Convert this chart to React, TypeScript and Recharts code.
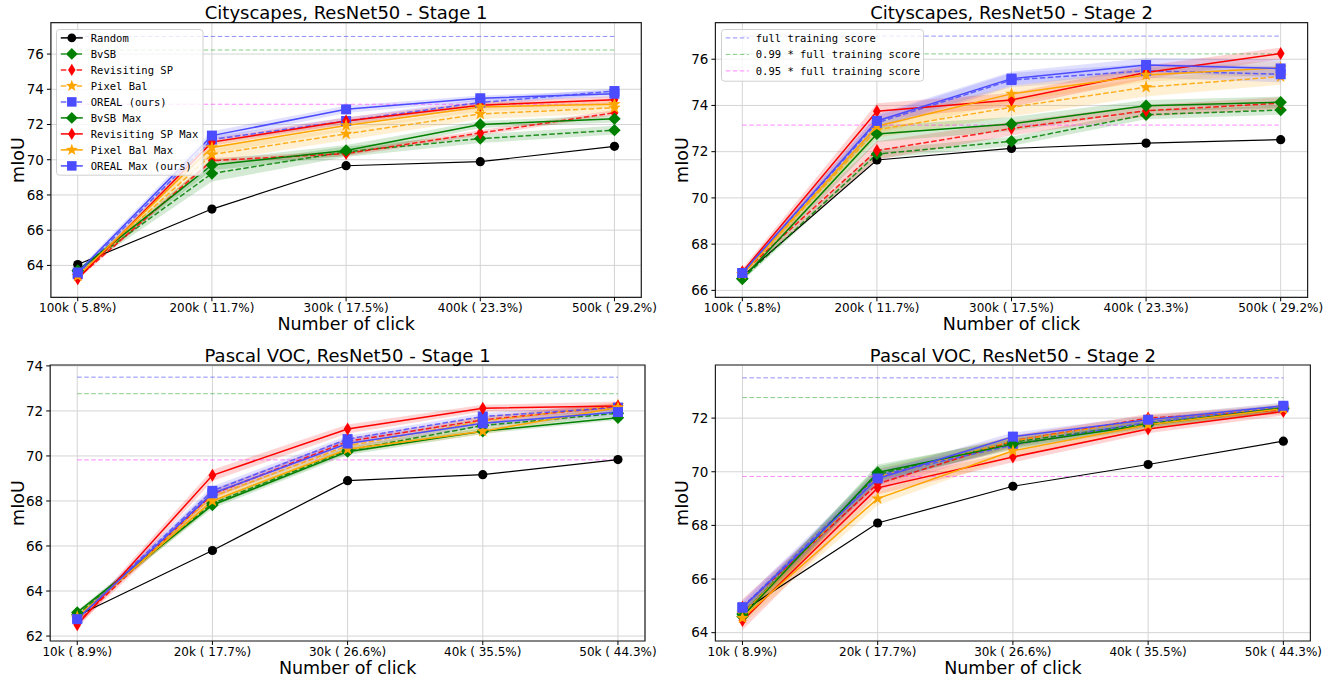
import React from 'react';
import { ComposedChart, Line, Area, XAxis, YAxis, CartesianGrid, ReferenceLine, ReferenceArea } from 'recharts';

// ---------- categories ----------
const cityXLabels = ['100k ( 5.8%)', '200k ( 11.7%)', '300k ( 17.5%)', '400k ( 23.3%)', '500k ( 29.2%)'];
const vocXLabels = ['10k ( 8.9%)', '20k ( 17.7%)', '30k ( 26.6%)', '40k ( 35.5%)', '50k ( 44.3%)'];

// ---------- Cityscapes Stage 1 ----------
const c1Random = [64.05, 67.2, 69.66, 69.89, 70.76];
const c1Bvsb = [63.7, 69.22, 70.45, 71.2, 71.68];
const c1Revsp = [63.3, 69.95, 70.35, 71.52, 72.67];
const c1Pixbal = [63.4, 70.3, 71.47, 72.6, 72.95];
const c1Oreal = [63.5, 71.15, 72.2, 73.25, 73.9];
const c1BvsbMax = [63.7, 69.7, 70.53, 72.0, 72.32];
const c1RevspMax = [63.25, 71.0, 72.2, 73.1, 73.4];
const c1PixbalMax = [63.4, 70.7, 71.95, 73.0, 73.15];
const c1OrealMax = [63.6, 71.37, 72.86, 73.49, 73.75];
const c1BvsbStd = [0.1, 0.45, 0.3, 0.25, 0.25];
const c1RevspStd = [0.1, 0.15, 0.15, 0.15, 0.15];
const c1PixbalStd = [0.1, 0.4, 0.35, 0.3, 0.3];
const c1OrealStd = [0.1, 0.2, 0.2, 0.2, 0.15];
const c1BvsbMaxStd = [0.1, 0.3, 0.3, 0.2, 0.2];
const c1RevspMaxStd = [0.1, 0.2, 0.2, 0.2, 0.2];
const c1PixbalMaxStd = [0.1, 0.35, 0.3, 0.25, 0.2];
const c1OrealMaxStd = [0.15, 0.25, 0.2, 0.15, 0.2];

// ---------- Cityscapes Stage 2 ----------
const c2Random = [66.6, 71.64, 72.14, 72.37, 72.52];
const c2Bvsb = [66.5, 71.9, 72.45, 73.6, 73.8];
const c2Revsp = [66.75, 72.05, 73.0, 73.77, 74.1];
const c2Pixbal = [66.7, 72.95, 73.92, 74.79, 75.25];
const c2Oreal = [66.75, 73.25, 75.1, 75.5, 75.35];
const c2BvsbMax = [66.5, 72.77, 73.2, 73.99, 74.14];
const c2RevspMax = [66.8, 73.75, 74.24, 75.43, 76.25];
const c2PixbalMax = [66.7, 73.1, 74.5, 75.32, 75.63];
const c2OrealMax = [66.75, 73.33, 75.16, 75.75, 75.6];
const c2BvsbStd = [0.1, 0.2, 0.2, 0.2, 0.2];
const c2RevspStd = [0.15, 0.4, 0.3, 0.25, 0.25];
const c2PixbalStd = [0.15, 0.35, 0.4, 0.4, 0.35];
const c2OrealStd = [0.1, 0.3, 0.3, 0.3, 0.35];
const c2BvsbMaxStd = [0.1, 0.35, 0.3, 0.25, 0.25];
const c2RevspMaxStd = [0.15, 0.35, 0.3, 0.3, 0.25];
const c2PixbalMaxStd = [0.15, 0.3, 0.35, 0.3, 0.3];
const c2OrealMaxStd = [0.1, 0.3, 0.3, 0.3, 0.4];

// ---------- Pascal VOC Stage 1 ----------
const v1Random = [62.9, 65.8, 68.9, 69.17, 69.84];
const v1Bvsb = [62.95, 67.9, 70.25, 71.35, 71.9];
const v1Revsp = [62.6, 68.3, 70.65, 71.6, 72.2];
const v1Pixbal = [62.8, 68.2, 70.45, 71.55, 72.25];
const v1Oreal = [62.8, 68.45, 70.75, 71.75, 72.15];
const v1BvsbMax = [63.05, 67.82, 70.19, 71.1, 71.7];
const v1RevspMax = [62.5, 69.14, 71.2, 72.12, 72.22];
const v1PixbalMax = [62.85, 68.0, 70.3, 71.1, 72.15];
const v1OrealMax = [62.75, 68.34, 70.55, 71.45, 71.95];
const v1BvsbStd = [0.1, 0.15, 0.15, 0.15, 0.12];
const v1RevspStd = [0.15, 0.2, 0.15, 0.15, 0.15];
const v1PixbalStd = [0.1, 0.2, 0.15, 0.2, 0.15];
const v1OrealStd = [0.1, 0.2, 0.15, 0.15, 0.15];
const v1BvsbMaxStd = [0.1, 0.15, 0.15, 0.12, 0.1];
const v1RevspMaxStd = [0.15, 0.25, 0.2, 0.15, 0.2];
const v1PixbalMaxStd = [0.1, 0.2, 0.15, 0.15, 0.15];
const v1OrealMaxStd = [0.12, 0.2, 0.2, 0.15, 0.15];

// ---------- Pascal VOC Stage 2 ----------
const v2Random = [64.8, 68.09, 69.46, 70.27, 71.14];
const v2Bvsb = [64.7, 69.9, 71.1, 71.8, 72.35];
const v2Revsp = [64.95, 69.55, 71.15, 72.0, 72.3];
const v2Pixbal = [64.7, 69.8, 71.15, 71.95, 72.4];
const v2Oreal = [64.95, 69.85, 71.0, 71.85, 72.4];
const v2BvsbMax = [64.6, 69.97, 71.03, 71.75, 72.38];
const v2RevspMax = [64.45, 69.4, 70.55, 71.59, 72.25];
const v2PixbalMax = [64.55, 69.0, 70.78, 71.75, 72.35];
const v2OrealMax = [64.93, 69.75, 71.31, 71.94, 72.46];
const v2BvsbStd = [0.25, 0.3, 0.2, 0.15, 0.12];
const v2RevspStd = [0.3, 0.25, 0.2, 0.15, 0.15];
const v2PixbalStd = [0.25, 0.3, 0.2, 0.15, 0.15];
const v2OrealStd = [0.25, 0.25, 0.15, 0.15, 0.12];
const v2BvsbMaxStd = [0.25, 0.3, 0.2, 0.15, 0.12];
const v2RevspMaxStd = [0.35, 0.25, 0.2, 0.15, 0.15];
const v2PixbalMaxStd = [0.25, 0.25, 0.2, 0.15, 0.15];
const v2OrealMaxStd = [0.2, 0.25, 0.15, 0.15, 0.12];

// ---------- reference scores ----------
const cityFullScore = 77.0;
const vocFullScore = 73.5;
const refFactors = [1, 0.99, 0.95];
const refNames = ['full training score', '0.99 * full training score', '0.95 * full training score'];

// ---------- tick values ----------
const c1YTicks = [64, 66, 68, 70, 72, 74, 76];
const c2YTicks = [66, 68, 70, 72, 74, 76];
const v1YTicks = [62, 64, 66, 68, 70, 72, 74];
const v2YTicks = [64, 66, 68, 70, 72];
const xTickIdx = [0, 1, 2, 3, 4];

// ---------- styles ----------
const SANS = "'DejaVu Sans', Verdana, sans-serif";
const MONO = "'DejaVu Sans Mono', monospace";
const BLUE = '#4b4bff';
const REF_COLORS = ['#3333ff', '#22a022', '#ff22ff'];

type Shape = 'circle' | 'D' | 'd' | 'star' | 's';
interface SeriesStyle { key: string; name: string; color: string; dash: boolean; shape: Shape }
const SERIES: SeriesStyle[] = [
  { key: 'random', name: 'Random', color: '#000000', dash: false, shape: 'circle' },
  { key: 'bvsb', name: 'BvSB', color: '#008000', dash: true, shape: 'D' },
  { key: 'revsp', name: 'Revisiting SP', color: '#ff0000', dash: true, shape: 'd' },
  { key: 'pixbal', name: 'Pixel Bal', color: '#ffa500', dash: true, shape: 'star' },
  { key: 'oreal', name: 'OREAL (ours)', color: BLUE, dash: true, shape: 's' },
  { key: 'bvsbMax', name: 'BvSB Max', color: '#008000', dash: false, shape: 'D' },
  { key: 'revspMax', name: 'Revisiting SP Max', color: '#ff0000', dash: false, shape: 'd' },
  { key: 'pixbalMax', name: 'Pixel Bal Max', color: '#ffa500', dash: false, shape: 'star' },
  { key: 'orealMax', name: 'OREAL Max (ours)', color: BLUE, dash: false, shape: 's' },
];

function starPts(cx: number, cy: number, R: number, r: number) {
  const pts: string[] = [];
  for (let k = 0; k < 10; k++) {
    const a = (-90 + k * 36) * Math.PI / 180;
    const rad = k % 2 === 0 ? R : r;
    pts.push(`${cx + rad * Math.cos(a)},${cy + rad * Math.sin(a)}`);
  }
  return pts.join(' ');
}

function MarkerShape({ cx, cy, shape, color, scale = 1 }: { cx: number; cy: number; shape: Shape; color: string; scale?: number }) {
  if (cx == null || cy == null || isNaN(cx) || isNaN(cy)) return null;
  const s = scale;
  if (shape === 'circle') return <circle cx={cx} cy={cy} r={4.6 * s} fill={color} />;
  if (shape === 'D') {
    const h = 6.2 * s;
    return <polygon points={`${cx},${cy - h} ${cx + h},${cy} ${cx},${cy + h} ${cx - h},${cy}`} fill={color} />;
  }
  if (shape === 'd') {
    const h = 6.5 * s, w = 3.9 * s;
    return <polygon points={`${cx},${cy - h} ${cx + w},${cy} ${cx},${cy + h} ${cx - w},${cy}`} fill={color} />;
  }
  if (shape === 'star') return <polygon points={starPts(cx, cy, 6.6 * s, 2.7 * s)} fill={color} />;
  const a = 5 * s;
  return <rect x={cx - a} y={cy - a} width={2 * a} height={2 * a} fill={color} />;
}

interface PanelCfg {
  left: number; top: number; width: number; height: number;
  plot: { left: number; right: number; top: number; bottom: number };
  domain: [number, number];
  yTicks: number[];
  xLabels: string[];
  means: Record<string, number[]>;
  stds: Record<string, number[]>;
  full: number;
  title: string;
}

const YW = 40;
const XH = 30;

function Panel({ cfg }: { cfg: PanelCfg }) {
  const { left, top, width, height, plot, domain, yTicks, xLabels, means, stds, full } = cfg;
  const data = xLabels.map((lab, i) => {
    const row: any = { x: i, label: lab };
    SERIES.forEach((s) => {
      row[s.key] = means[s.key][i];
      if (stds[s.key]) row[s.key + 'Band'] = [means[s.key][i] - stds[s.key][i], means[s.key][i] + stds[s.key][i]];
    });
    return row;
  });
  const margin = {
    left: plot.left - left - YW,
    right: left + width - plot.right,
    top: plot.top - top,
    bottom: top + height - plot.bottom - XH,
  };
  return (
    <div style={{ position: 'absolute', left, top, width, height }}>
      <ComposedChart width={width} height={height} data={data} margin={margin}>
        <CartesianGrid stroke="#d4d4d4" strokeWidth={1} />
        <XAxis
          type="number" dataKey="x" domain={[-0.2, 4.2]} ticks={xTickIdx} interval={0}
          tickFormatter={(v: number) => xLabels[v]} height={XH} tickSize={4} tickMargin={2}
          axisLine={false} tickLine={{ stroke: '#000' }} allowDataOverflow
          tick={{ fontSize: 12, fill: '#000', fontFamily: SANS }}
        />
        <YAxis
          type="number" domain={domain} ticks={yTicks} interval={0} width={YW} tickSize={4} tickMargin={3}
          axisLine={false} tickLine={{ stroke: '#000' }} allowDataOverflow
          tick={{ fontSize: 13.5, fill: '#000', fontFamily: SANS }}
        />
        {refFactors.map((f, i) => (
          <ReferenceLine
            key={'ref' + i}
            segment={[{ x: 0, y: full * f }, { x: 4, y: full * f }]}
            stroke={REF_COLORS[i]} strokeOpacity={0.55} strokeWidth={1} strokeDasharray="4.5 2.5"
            ifOverflow="visible"
          />
        ))}
        {SERIES.filter((s) => stds[s.key]).map((s) => (
          <Area
            key={s.key + 'Band'} type="linear" dataKey={s.key + 'Band'} stroke="none" fill={s.color}
            fillOpacity={0.17} isAnimationActive={false} dot={false} activeDot={false} legendType="none"
          />
        ))}
        {SERIES.map((s) => (
          <Line
            key={s.key} type="linear" dataKey={s.key} stroke={s.color}
            strokeWidth={s.key === 'random' ? 1.2 : 1.5}
            strokeOpacity={s.dash ? 0.85 : 1}
            strokeDasharray={s.dash ? '5.5 2.4' : undefined}
            isAnimationActive={false} activeDot={false}
            dot={(p: any) => <MarkerShape key={s.key + '-' + p.index} cx={p.cx} cy={p.cy} shape={s.shape} color={s.color} />}
          />
        ))}
        <ReferenceArea x1={-0.2} x2={4.2} y1={domain[0]} y2={domain[1]} fill="none" stroke="#222" strokeWidth={1.2} ifOverflow="visible" />
      </ComposedChart>
    </div>
  );
}

const PANELS: PanelCfg[] = [
  {
    left: 0, top: 0, width: 666, height: 340,
    plot: { left: 50.9, right: 641.3, top: 22.7, bottom: 297.3 },
    domain: [62.19, 77.78], yTicks: c1YTicks, xLabels: cityXLabels, full: cityFullScore,
    title: 'Cityscapes, ResNet50 - Stage 1',
    means: { random: c1Random, bvsb: c1Bvsb, revsp: c1Revsp, pixbal: c1Pixbal, oreal: c1Oreal, bvsbMax: c1BvsbMax, revspMax: c1RevspMax, pixbalMax: c1PixbalMax, orealMax: c1OrealMax },
    stds: { bvsb: c1BvsbStd, revsp: c1RevspStd, pixbal: c1PixbalStd, oreal: c1OrealStd, bvsbMax: c1BvsbMaxStd, revspMax: c1RevspMaxStd, pixbalMax: c1PixbalMaxStd, orealMax: c1OrealMaxStd },
  },
  {
    left: 666, top: 0, width: 667, height: 340,
    plot: { left: 715.4, right: 1307.6, top: 22.7, bottom: 297.3 },
    domain: [65.7, 77.58], yTicks: c2YTicks, xLabels: cityXLabels, full: cityFullScore,
    title: 'Cityscapes, ResNet50 - Stage 2',
    means: { random: c2Random, bvsb: c2Bvsb, revsp: c2Revsp, pixbal: c2Pixbal, oreal: c2Oreal, bvsbMax: c2BvsbMax, revspMax: c2RevspMax, pixbalMax: c2PixbalMax, orealMax: c2OrealMax },
    stds: { bvsb: c2BvsbStd, revsp: c2RevspStd, pixbal: c2PixbalStd, oreal: c2OrealStd, bvsbMax: c2BvsbMaxStd, revspMax: c2RevspMaxStd, pixbalMax: c2PixbalMaxStd, orealMax: c2OrealMaxStd },
  },
  {
    left: 0, top: 340, width: 666, height: 341,
    plot: { left: 50.2, right: 645, top: 365, bottom: 641 },
    domain: [61.78, 74.04], yTicks: v1YTicks, xLabels: vocXLabels, full: vocFullScore,
    title: 'Pascal VOC, ResNet50 - Stage 1',
    means: { random: v1Random, bvsb: v1Bvsb, revsp: v1Revsp, pixbal: v1Pixbal, oreal: v1Oreal, bvsbMax: v1BvsbMax, revspMax: v1RevspMax, pixbalMax: v1PixbalMax, orealMax: v1OrealMax },
    stds: { bvsb: v1BvsbStd, revsp: v1RevspStd, pixbal: v1PixbalStd, oreal: v1OrealStd, bvsbMax: v1BvsbMaxStd, revspMax: v1RevspMaxStd, pixbalMax: v1PixbalMaxStd, orealMax: v1OrealMaxStd },
  },
  {
    left: 666, top: 340, width: 667, height: 341,
    plot: { left: 715.4, right: 1310.4, top: 365, bottom: 641 },
    domain: [63.69, 73.98], yTicks: v2YTicks, xLabels: vocXLabels, full: vocFullScore,
    title: 'Pascal VOC, ResNet50 - Stage 2',
    means: { random: v2Random, bvsb: v2Bvsb, revsp: v2Revsp, pixbal: v2Pixbal, oreal: v2Oreal, bvsbMax: v2BvsbMax, revspMax: v2RevspMax, pixbalMax: v2PixbalMax, orealMax: v2OrealMax },
    stds: { bvsb: v2BvsbStd, revsp: v2RevspStd, pixbal: v2PixbalStd, oreal: v2OrealStd, bvsbMax: v2BvsbMaxStd, revspMax: v2RevspMaxStd, pixbalMax: v2PixbalMaxStd, orealMax: v2OrealMaxStd },
  },
];

function SeriesLegend() {
  const w = 146.5, h = 145.7;
  return (
    <svg style={{ position: 'absolute', left: 55.7, top: 29.3 }} width={w + 2} height={h + 2}>
      <rect x={0.5} y={0.5} width={w} height={h} rx={3} fill="#fff" fillOpacity={0.8} stroke="#cfcfcf" strokeWidth={1} />
      {SERIES.map((s, i) => {
        const y = 8.9 + 16 * i;
        return (
          <g key={s.key}>
            <line x1={4.8} x2={26.8} y1={y} y2={y} stroke={s.color} strokeWidth={1.5}
              strokeOpacity={s.dash ? 0.85 : 1} strokeDasharray={s.dash ? '5.5 2.4' : undefined} />
            <MarkerShape cx={15.8} cy={y} shape={s.shape} color={s.color} scale={0.95} />
            <text x={34.8} y={y} dominantBaseline="central" fontFamily={MONO} fontSize={10.5} fill="#000">{s.name}</text>
          </g>
        );
      })}
    </svg>
  );
}

function RefLegend() {
  const w = 202, h = 51.7;
  return (
    <svg style={{ position: 'absolute', left: 720.7, top: 29.3 }} width={w + 2} height={h + 2}>
      <rect x={0.5} y={0.5} width={w} height={h} rx={3} fill="#fff" fillOpacity={0.8} stroke="#cfcfcf" strokeWidth={1} />
      {refNames.map((n, i) => {
        const y = 8.9 + 16.5 * i;
        return (
          <g key={n}>
            <line x1={4.8} x2={27.8} y1={y} y2={y} stroke={REF_COLORS[i]} strokeOpacity={0.55} strokeWidth={1} strokeDasharray="4.5 2.5" />
            <text x={34.8} y={y} dominantBaseline="central" fontFamily={MONO} fontSize={10.5} fill="#000">{n}</text>
          </g>
        );
      })}
    </svg>
  );
}

function Texts() {
  return (
    <svg style={{ position: 'absolute', left: 0, top: 0, pointerEvents: 'none' }} width={1333} height={681}>
      {PANELS.map((p, i) => {
        const cx = (p.plot.left + p.plot.right) / 2;
        const cy = (p.plot.top + p.plot.bottom) / 2;
        const yl = i % 2 === 0 ? 24 : 688;
        return (
          <g key={'t' + i} fontFamily={SANS} fill="#000">
            <text x={cx} y={p.plot.top - 3.4} textAnchor="middle" fontSize={18}>{p.title}</text>
            <text x={cx} y={p.plot.bottom + 32.7} textAnchor="middle" fontSize={17.5}>Number of click</text>
            <text x={yl} y={cy} textAnchor="middle" fontSize={17.5} transform={`rotate(-90 ${yl} ${cy})`}>mIoU</text>
          </g>
        );
      })}
    </svg>
  );
}

export default function App() {
  return (
    <div style={{ position: 'absolute', left: 0, top: 0, width: 1333, height: 681, background: '#fff', overflow: 'hidden' }}>
      {PANELS.map((p, i) => <Panel key={i} cfg={p} />)}
      <SeriesLegend />
      <RefLegend />
      <Texts />
    </div>
  );
}
